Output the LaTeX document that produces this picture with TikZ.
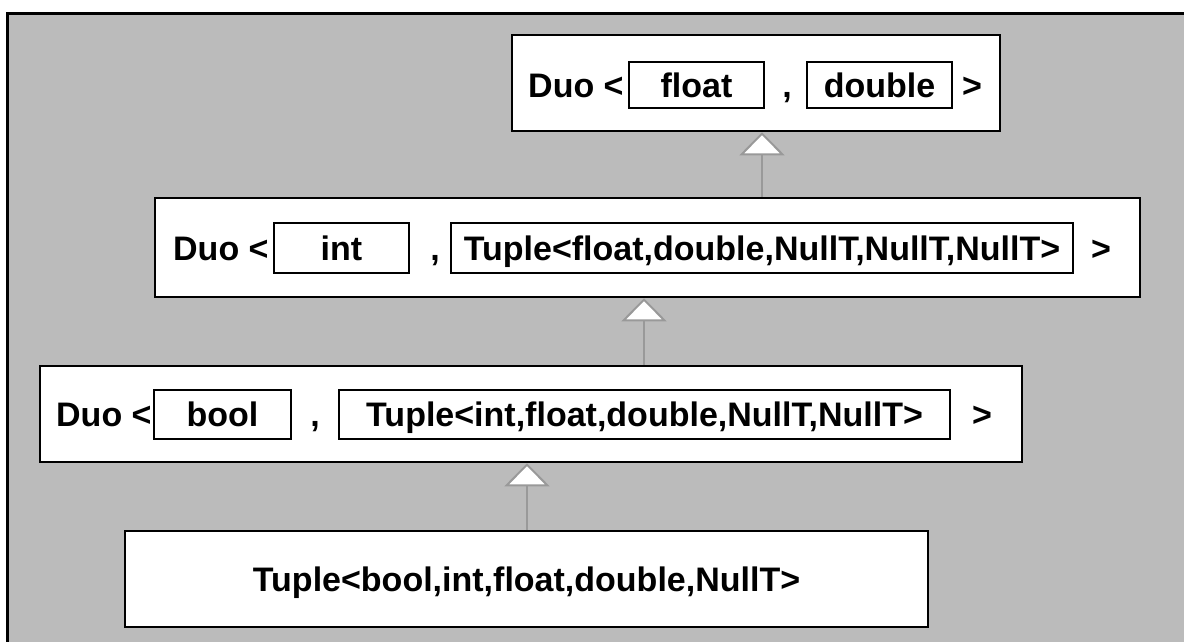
\documentclass[tikz,border=0pt]{standalone}
\usepackage{fontspec}
\setmainfont{Liberation Sans}
\usetikzlibrary{arrows.meta}
\definecolor{bg}{HTML}{BBBBBB}
\definecolor{ln}{HTML}{999999}
\begin{document}
\begin{tikzpicture}[x=1pt,y=-1pt,
  txt/.style={font=\fontsize{34}{40}\selectfont\bfseries,inner sep=0pt,text height=24pt,text depth=0pt},
  box/.style={draw=black,line width=2.5pt,fill=white,inner sep=0pt,txt},
  ibox/.style={draw=black,line width=2pt,fill=white,inner sep=0pt,txt},
  inh/.style={draw=ln,line width=2pt,-{Triangle[open,length=23pt,width=45pt,fill=white]}}]
\useasboundingbox (0,0) rectangle (1184,641);
\fill[white] (0,0) rectangle (1184,641);
\fill[bg] (7,13) rectangle (1200,660);
\draw[line width=3pt] (7,660) -- (7,13) -- (1200,13);

% row 1
\node[box,minimum width=488pt,minimum height=96pt] (d1) at (756,83) {};
\node[ibox,minimum width=135pt,minimum height=46pt] (f1) at (696.5,85) {float};
\node[ibox,minimum width=145pt,minimum height=46pt] (g1) at (879.5,85) {double};
\node[txt,anchor=west] (a1) at (528,85) {Duo <};
\node[txt] (c1) at (787,85) {,};
\node[txt] (e1) at (972,85) {>};

% row 2
\node[box,minimum width=985pt,minimum height=99pt] (d2) at (647.5,247.5) {};
\node[ibox,minimum width=135pt,minimum height=50pt] (f2) at (341.5,248) {int};
\node[ibox,minimum width=622pt,minimum height=50pt] (g2) at (762,248) {Tuple<float,double,NullT,NullT,NullT>};
\node[txt,anchor=west] (a2) at (173,248) {Duo <};
\node[txt] (c2) at (435,248) {,};
\node[txt] (e2) at (1101,248) {>};

% row 3
\node[box,minimum width=982pt,minimum height=96pt] (d3) at (531,414) {};
\node[ibox,minimum width=137pt,minimum height=49pt] (f3) at (222.5,414.5) {bool};
\node[ibox,minimum width=611pt,minimum height=49pt] (g3) at (644.5,414.5) {Tuple<int,float,double,NullT,NullT>};
\node[txt,anchor=west] (a3) at (56,414.5) {Duo <};
\node[txt] (c3) at (315,414.5) {,};
\node[txt] (e3) at (982,414.5) {>};

% row 4
\node[box,minimum width=803pt,minimum height=96pt] (d4) at (526.5,579) {Tuple<bool,int,float,double,NullT>};

% inheritance arrows
\coordinate (x1) at (762,0);
\coordinate (x2) at (644,0);
\coordinate (x3) at (527,0);
\draw[inh] (x1 |- d2.north) -- (x1 |- d1.south);
\draw[inh] (x2 |- d3.north) -- (x2 |- d2.south);
\draw[inh] (x3 |- d4.north) -- (x3 |- d3.south);
\end{tikzpicture}
\end{document}
